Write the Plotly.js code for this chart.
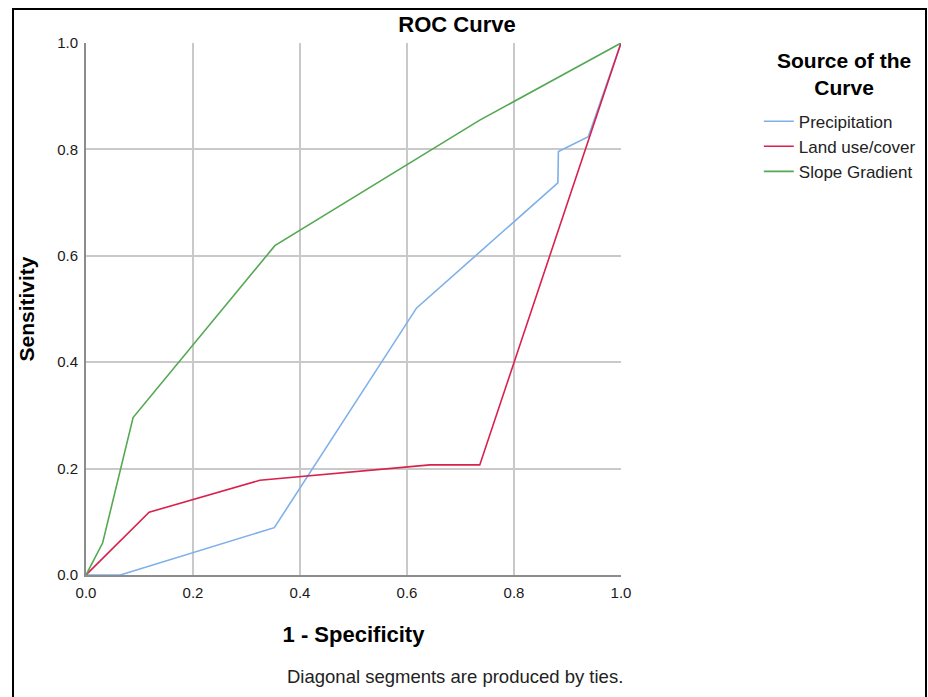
<!DOCTYPE html>
<html>
<head>
<meta charset="utf-8">
<script src="https://cdn.plot.ly/plotly-3.0.1.min.js"></script>
<style>
  html, body { margin: 0; padding: 0; overflow: hidden; background: #fff; }
  #wrap { position: relative; width: 928px; height: 697px; }
  #chart { width: 928px; height: 697px; }
  #frame { position: absolute; left: 12px; top: 8px; width: 911px; height: 720px;
           border: 2px solid #000; pointer-events: none; }
</style>
</head>
<body>
<div id="wrap">
  <div id="chart"></div>
  <div id="frame"></div>
</div>
<script>
// ROC coordinates (1 - specificity, sensitivity) for each test variable
const precipX = [0, 0.064, 0.352, 0.618, 0.882, 0.883, 0.939, 1];
const precipY = [0, 0, 0.089, 0.502, 0.737, 0.796, 0.824, 1];

const landX = [0, 0.118, 0.325, 0.643, 0.736, 1];
const landY = [0, 0.118, 0.178, 0.207, 0.207, 1];

const slopeX = [0, 0.031, 0.088, 0.353, 0.736, 1];
const slopeY = [0, 0.060, 0.296, 0.619, 0.855, 1];

const seriesNames = ['Precipitation', 'Land use/cover', 'Slope Gradient'];
const seriesColors = ['#7fb0ea', '#d9214d', '#54a854'];

const tickVals = [0, 0.2, 0.4, 0.6, 0.8, 1.0];
const tickText = ['0.0', '0.2', '0.4', '0.6', '0.8', '1.0'];

const FONT = 'Liberation Sans, Arial, sans-serif';

const traces = [
  [precipX, precipY],
  [landX, landY],
  [slopeX, slopeY]
].map(([x, y], i) => ({
  x: x, y: y,
  type: 'scatter', mode: 'lines',
  name: seriesNames[i],
  line: { color: seriesColors[i], width: 1.6 },
  hoverinfo: 'skip'
}));

const axisCommon = {
  range: [0, 1],
  tickvals: tickVals,
  ticktext: tickText,
  tickfont: { family: FONT, size: 15, color: '#1a1a1a' },
  ticklabelstandoff: 3,
  showgrid: true,
  gridcolor: '#c9c9c9',
  gridwidth: 2,
  zeroline: false,
  showline: true,
  linecolor: '#8c8c8c',
  linewidth: 2,
  ticks: '',
  fixedrange: true
};

const layout = {
  width: 928, height: 697,
  margin: { l: 86, r: 307, t: 43, b: 122, autoexpand: false },
  paper_bgcolor: '#fff',
  plot_bgcolor: '#fff',
  font: { family: FONT, color: '#000' },
  title: {
    text: '<b>ROC Curve</b>',
    font: { family: FONT, size: 22, color: '#000' },
    x: 0.4925, xref: 'container', xanchor: 'center',
    y: 0.965, yref: 'container', yanchor: 'middle'
  },
  xaxis: Object.assign({}, axisCommon, {
    title: { text: '<b>1 - Specificity</b>', font: { family: FONT, size: 22, color: '#000' }, standoff: 27 }
  }),
  yaxis: Object.assign({}, axisCommon, {
    title: { text: '<b>Sensitivity</b>', font: { family: FONT, size: 21, color: '#000' }, standoff: 17 }
  }),
  showlegend: true,
  legend: {
    x: 1.2576, xanchor: 'left',
    y: 0.886, yanchor: 'top',
    bgcolor: 'rgba(0,0,0,0)',
    font: { family: FONT, size: 17, color: '#222' },
    tracegroupgap: 0,
    itemwidth: 30
  },
  annotations: [{
    // legend heading
    text: '<b>Source of the<br>Curve</b>',
    xref: 'paper', yref: 'paper',
    x: 1.417, y: 0.942,
    xanchor: 'center', yanchor: 'middle', align: 'center',
    showarrow: false,
    font: { family: FONT, size: 21, color: '#000' }
  }, {
    text: 'Diagonal segments are produced by ties.',
    xref: 'paper', yref: 'paper',
    x: 0.69, y: -0.19,
    xanchor: 'center', yanchor: 'middle',
    showarrow: false,
    font: { family: FONT, size: 18.5, color: '#222' }
  }]
};

Plotly.newPlot('chart', traces, layout, { staticPlot: true, displayModeBar: false });
</script>
</body>
</html>
